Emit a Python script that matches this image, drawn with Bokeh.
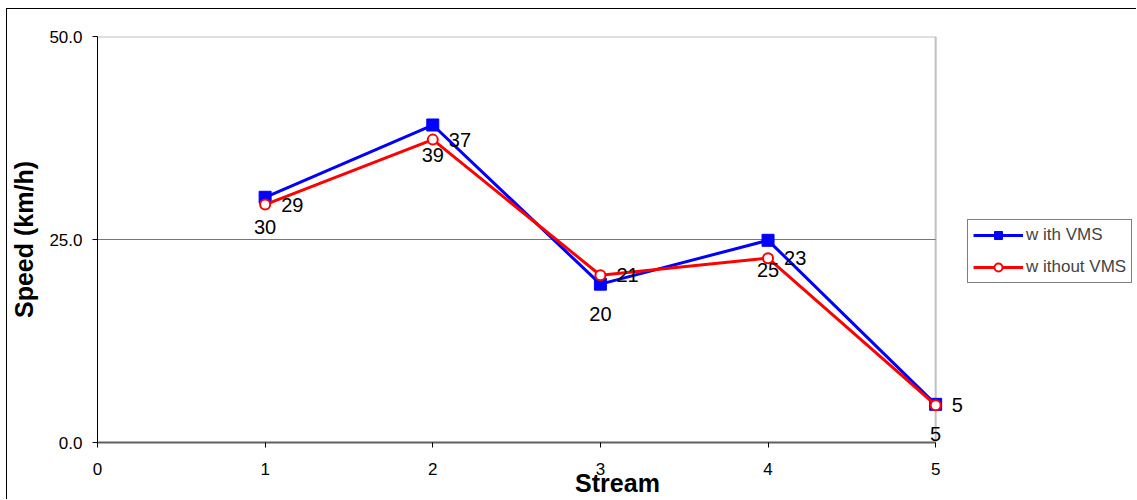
from bokeh.plotting import figure
from bokeh.models import (Range1d, FixedTicker, LabelSet, ColumnDataSource, Legend,
                          LegendItem, NumeralTickFormatter)
from bokeh.core.properties import value
from bokeh.embed import file_html
from bokeh.resources import INLINE

# ---- data ----
streams = [1, 2, 3, 4, 5]
with_vms = [30.2, 39.1, 19.5, 24.9, 4.7]
without_vms = [29.3, 37.3, 20.6, 22.7, 4.6]
with_labels = ["30", "39", "20", "25", "5"]
without_labels = ["29", "37", "21", "23", "5"]
x_ticks = [0, 1, 2, 3, 4, 5]
y_ticks = [0, 25, 50]
series_names = ["w ith VMS", "w ithout VMS"]

FONT = "Liberation Sans"
x_lo, x_hi = x_ticks[0], x_ticks[-1]
y_lo, y_mid, y_hi = y_ticks

p = figure(width=1130, height=491, output_backend="svg", toolbar_location=None,
           x_range=Range1d(x_lo, 6.204), y_range=Range1d(y_lo, y_hi),
           min_border_left=89, min_border_right=0, min_border_top=27, min_border_bottom=58,
           background_fill_color="white", border_fill_color="white",
           margin=(8, 0, 0, 6),
           styles={"border-left": "1px solid black", "border-top": "1px solid black"})

p.outline_line_color = None
p.xgrid.visible = False
p.ygrid.visible = False

# plot-area border (top / right) and the 25 gridline, bounded to the axis extent
p.segment(x0=[x_lo, x_hi], y0=[y_hi, y_lo], x1=[x_hi, x_hi], y1=[y_hi, y_hi],
          line_color="#c0c0c0", line_width=2)
p.segment(x0=[x_lo], y0=[y_mid], x1=[x_hi], y1=[y_mid],
          line_color="#777777", line_width=1.2)

# axes
p.xaxis.ticker = FixedTicker(ticks=x_ticks)
p.yaxis.ticker = FixedTicker(ticks=y_ticks)
p.yaxis.formatter = NumeralTickFormatter(format="0.0")
p.xaxis.bounds = (x_lo, x_hi)
for ax in (p.xaxis[0], p.yaxis[0]):
    ax.major_label_text_font = FONT
    ax.major_label_text_font_size = "17px"
    ax.major_label_text_color = "black"
    ax.axis_label_text_font = FONT
    ax.axis_label_text_font_size = "25px"
    ax.axis_label_text_font_style = "bold"
    ax.axis_label_text_color = "black"
    ax.major_tick_in = 0
    ax.major_tick_out = 5
    ax.minor_tick_in = 0
    ax.minor_tick_out = 0
p.xaxis.axis_label = "Stream"
p.yaxis.axis_label = "Speed (km/h)"
p.xaxis.axis_line_color = "#606060"
p.xaxis.axis_line_width = 2
p.xaxis.major_tick_line_color = "black"
p.yaxis.axis_line_color = "black"
p.yaxis.axis_line_width = 1
p.xaxis.major_label_standoff = 15
p.xaxis.axis_label_standoff = -9
p.yaxis.major_label_standoff = 10
p.yaxis.axis_label_standoff = 8

src = ColumnDataSource(dict(x=streams, w=with_vms, wo=without_vms,
                            wl=with_labels, wol=without_labels))

l1 = p.line("x", "w", source=src, line_color="#0000ff", line_width=3)
s1 = p.scatter("x", "w", source=src, marker="square", size=12,
               fill_color="#0000ff", line_color="#0000ff")
l2 = p.line("x", "wo", source=src, line_color="#ff0000", line_width=3)
s2 = p.scatter("x", "wo", source=src, marker="circle", size=10,
               fill_color="white", line_color="#ff0000", line_width=2)

lab1 = LabelSet(x="x", y="w", text="wl", source=src, y_offset=-30,
                text_align="center", text_baseline="middle",
                text_font=value(FONT), text_font_size=value("20px"), text_color="black")
lab2 = LabelSet(x="x", y="wo", text="wol", source=src, x_offset=16,
                text_align="left", text_baseline="middle",
                text_font=value(FONT), text_font_size=value("20px"), text_color="black")
p.add_layout(lab1)
p.add_layout(lab2)

legend = Legend(items=[LegendItem(label=series_names[0], renderers=[l1, s1]),
                       LegendItem(label=series_names[1], renderers=[l2, s2])],
                location=(870, 159), orientation="vertical",
                glyph_width=50, glyph_height=20, label_height=20, spacing=12,
                padding=5, margin=0, label_standoff=3,
                label_text_font=FONT, label_text_font_size="17px",
                border_line_color="black", border_line_width=1,
                background_fill_color="white", background_fill_alpha=1)
p.add_layout(legend, "center")

open("out.html", "w").write(file_html(p, INLINE))
